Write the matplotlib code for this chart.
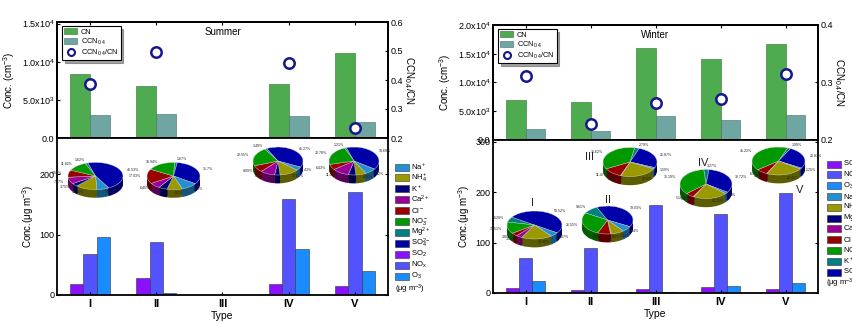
import numpy as np
import matplotlib
matplotlib.use('Agg')
import matplotlib.pyplot as plt
from matplotlib.patches import Patch, Rectangle
from matplotlib.lines import Line2D
from matplotlib.colors import to_rgb

plt.rcParams['font.family'] = ['Liberation Sans', 'DejaVu Sans']
plt.rcParams['mathtext.fontset'] = 'custom'
plt.rcParams['mathtext.rm'] = 'Liberation Sans'
plt.rcParams['mathtext.it'] = 'Liberation Sans:italic'
plt.rcParams['mathtext.bf'] = 'Liberation Sans:bold'

types = ['I', 'II', 'III', 'IV', 'V']

# ---------------- Summer data ----------------
summer_cn = [8400, 6800, np.nan, 7050, 11100]
summer_ccn = [2990, 3200, np.nan, 2900, 2100]
summer_ratio = [0.386, 0.496, np.nan, 0.458, 0.236]
summer_so2 = [17.6, 27.5, np.nan, 19, 15]
summer_nox = [68, 88, np.nan, 159, 171]
summer_o3 = [96, 4, np.nan, 77, 39]

# pie species order (clockwise): Mg2+, SO4 2-, Na+, NH4+, K+, Ca2+, Cl-, NO3-
summer_pie_I = [1.62, 46.53, 7.11, 12.76, 3.75, 7.87, 8.54, 11.82]
summer_pie_II = [1.67, 31.7, 9.75, 9.1, 5.2, 6.45, 17.03, 16.94]
summer_pie_IV = [1.49, 41.27, 4.30, 12.82, 3.7, 9.87, 8.09, 22.55]
summer_pie_V = [1.21, 39.69, 7.42, 6.56, 4.9, 11.01, 6.43, 22.78]

# ---------------- Winter data ----------------
winter_cn = [6960, 6670, 16060, 14090, 16750]
winter_ccn = [1910, 1510, 4230, 3540, 4400]
winter_ratio = [0.312, 0.228, 0.264, 0.271, 0.314]
winter_so2 = [10, 6.5, 7, 12.5, 7.5]
winter_nox = [69, 90, 174, 157, 199]
winter_o3 = [24, 2, 1, 14, 19]

# pie species order (clockwise): K+, SO4 2-, Na+, NH4+, Ca2+, Cl-, NO3-
winter_pie_I = [6.28, 50.52, 5.07, 18.28, 3.54, 3.8, 13.51]
winter_pie_II = [9.61, 39.03, 6.4, 8.04, 0.5, 8.03, 26.55]
winter_pie_III = [2.79, 25.87, 1.59, 22.6, 0.21, 11.47, 35.62]
winter_pie_IV = [3.27, 32.72, 2.0, 21.21, 0.45, 5.16, 35.19]
winter_pie_V = [1.99, 25.87, 1.25, 22.41, 0.23, 6.90, 41.22]

# tick labels
upper_left_ticks = [0, 5000, 10000, 15000]
upper_left_labels = ['0.0', r'5.0x10$^3$', r'1.0x10$^4$', r'1.5x10$^4$']
upper_right_ticks_s = [0.2, 0.3, 0.4, 0.5, 0.6]
upper_left_ticks_w = [0, 5000, 10000, 15000, 20000]
upper_left_labels_w = ['0.0', r'5.0x10$^3$', r'1.0x10$^4$', r'1.5x10$^4$', r'2.0x10$^4$']
upper_right_ticks_w = [0.2, 0.3, 0.4]

# colours
C_CN = '#4fab4f'
C_CCN = '#6fa6a2'
C_RATIO = '#16168f'
C_SO2 = '#8a10ff'
C_NOX = '#5252ff'
C_O3 = '#1a8cff'
C_NA = '#2590d0'
C_NH4 = '#9a9a00'
C_NAVY = '#00007a'
C_CA = '#990099'
C_CL = '#990000'
C_NO3 = '#009a00'
C_TEAL = '#008080'
C_SO4 = '#0000a8'

summer_pie_colors = [C_TEAL, C_SO4, C_NA, C_NH4, C_NAVY, C_CA, C_CL, C_NO3]
winter_pie_colors = [C_TEAL, C_SO4, C_NA, C_NH4, C_CA, C_CL, C_NO3]

summer_legend_labels = [r'Na$^+$', r'NH$_4^+$', r'K$^+$', r'Ca$^{2+}$', r'Cl$^-$', r'NO$_3^-$',
                        r'Mg$^{2+}$', r'SO$_4^{2-}$', r'SO$_2$', r'NO$_\mathrm{x}$', r'O$_3$']
summer_legend_colors = [C_NA, C_NH4, C_NAVY, C_CA, C_CL, C_NO3, C_TEAL, C_SO4, C_SO2, C_NOX, C_O3]
winter_legend_labels = [r'SO$_2$', r'NO$_\mathrm{x}$', r'O$_3$', r'Na$^+$', r'NH$_4^+$', r'Mg$^{2+}$',
                        r'Ca$^{2+}$', r'Cl$^-$', r'NO$_3^-$', r'K$^+$', r'SO$_4^{2-}$']
winter_legend_colors = [C_SO2, C_NOX, C_O3, C_NA, C_NH4, C_NAVY, C_CA, C_CL, C_NO3, C_TEAL, C_SO4]

W, H = 853, 324
fig = plt.figure(figsize=(W / 100, H / 100), dpi=100)


def px_axes(x0, y0, x1, y1, **kw):
    return fig.add_axes([x0 / W, 1 - y1 / H, (x1 - x0) / W, (y1 - y0) / H], **kw)


def style(ax):
    for s in ax.spines.values():
        s.set_linewidth(1.3)
    ax.tick_params(direction='in', length=2.5, width=0.8, labelsize=6.5, pad=2)


def darken(c, f=0.6):
    r, g, b = to_rgb(c)
    return (r * f, g * f, b * f)


def draw_pie(cx, cy, rx, ry, vals, cols, start):
    depth = 0.6
    ax = px_axes(cx - 1.5 * rx, cy - 1.4 * ry, cx + 1.5 * rx, cy + (1 + depth + 0.4) * ry)
    dark = [darken(c) for c in cols]
    n = 7
    for k in range(n):
        ax.pie(vals, colors=dark, startangle=start, counterclock=False,
               center=(0, -depth * (1 - k / n)), wedgeprops=dict(linewidth=0))
    labels = ['%g%%' % v for v in vals]
    ax.pie(vals, colors=cols, startangle=start, counterclock=False, labels=labels,
           labeldistance=1.22, textprops=dict(fontsize=2.6, color='#222222'),
           wedgeprops=dict(edgecolor='#dddddd', linewidth=0.3))
    ax.set_aspect('auto')
    ax.set_xlim(-1.5, 1.5)
    ax.set_ylim(-1 - depth - 0.4, 1.4)
    ax.axis('off')
    return ax


def panel(xl, xr, yt, ymid, yb, cn, ccn, ratio, so2, nox, o3, yticks, ylabels, ylim_u,
          rticks, rlim, ylim_l, lticks, title):
    x = np.arange(len(types))
    au = px_axes(xl, yt, xr, ymid)
    al = px_axes(xl, ymid, xr, yb)
    style(au)
    style(al)
    au.bar(x - 0.15, cn, width=0.3, color=C_CN, edgecolor='#2f6f2f', linewidth=0.4, label='CN')
    au.bar(x + 0.15, ccn, width=0.3, color=C_CCN, edgecolor='#446e6b', linewidth=0.4,
           label=r'CCN$_{0.4}$')
    au.set_xlim(-0.5, len(types) - 0.5)
    au.set_ylim(*ylim_u)
    au.set_yticks(yticks)
    au.set_yticklabels(ylabels)
    au.set_xticks(x)
    au.tick_params(axis='x', bottom=False, top=True, labelbottom=False)
    au.set_ylabel(r'Conc. (cm$^{-3}$)', fontsize=7, labelpad=3)
    ar = au.twinx()
    style(ar)
    ar.plot(x, ratio, 'o', markersize=7.5, markerfacecolor='white', markeredgecolor=C_RATIO,
            markeredgewidth=1.8, linestyle='none')
    ar.set_ylim(*rlim)
    ar.set_yticks(rticks)
    ar.set_yticklabels(['%.1f' % t for t in rticks])
    ar.set_ylabel(r'CCN$_{0.4}$/CN', fontsize=7, rotation=270, labelpad=9)
    au.text(0.5, 0.91, title, transform=au.transAxes, ha='center', va='center', fontsize=7)
    handles = [Patch(facecolor=C_CN, edgecolor='#2f6f2f', linewidth=0.4),
               Patch(facecolor=C_CCN, edgecolor='#446e6b', linewidth=0.4),
               Line2D([], [], marker='o', linestyle='none', markersize=5, markerfacecolor='white',
                      markeredgecolor=C_RATIO, markeredgewidth=1.5)]
    leg = au.legend(handles, ['CN', r'CCN$_{0.4}$', r'CCN$_{0.4}$/CN'], loc='upper left',
                    bbox_to_anchor=(0.01, 0.98), fontsize=5.3, frameon=True, fancybox=False,
                    shadow=True, edgecolor='black', handlelength=1.8, handleheight=0.9,
                    labelspacing=0.15, borderpad=0.3, handletextpad=0.5, borderaxespad=0.2)
    leg.get_frame().set_linewidth(0.8)

    al.bar(x - 0.2, so2, width=0.2, color=C_SO2, edgecolor='#333333', linewidth=0.4)
    al.bar(x, nox, width=0.2, color=C_NOX, edgecolor='#333333', linewidth=0.4)
    al.bar(x + 0.2, o3, width=0.2, color=C_O3, edgecolor='#333333', linewidth=0.4)
    al.set_xlim(-0.5, len(types) - 0.5)
    al.set_ylim(*ylim_l)
    al.set_yticks(lticks)
    al.set_xticks(x)
    al.set_xticklabels(types, fontsize=8, fontweight='bold')
    al.tick_params(axis='y', right=True)
    al.tick_params(axis='x', pad=3)
    al.spines['top'].set_visible(False)
    al.set_ylabel(r'Conc.($\mathrm{\mu}$g m$^{-3}$)', fontsize=7, labelpad=2)
    al.set_xlabel('Type', fontsize=7.5, labelpad=1)
    return au, al


# ---------------- Summer panel ----------------
panel(57, 388, 22, 138, 295, summer_cn, summer_ccn, summer_ratio, summer_so2, summer_nox,
      summer_o3, upper_left_ticks, upper_left_labels, (0, 15200), upper_right_ticks_s, (0.2, 0.6),
      (0, 260), [0, 100, 200], 'Summer')

# ---------------- Winter panel ----------------
panel(493, 818, 25, 140, 293, winter_cn, winter_ccn, winter_ratio, winter_so2, winter_nox,
      winter_o3, upper_left_ticks_w, upper_left_labels_w, (0, 20000), upper_right_ticks_w,
      (0.2, 0.4), (0, 303), [0, 100, 200, 300], 'Winter')

# ---------------- pies ----------------
draw_pie(95.5, 176, 27.5, 13.6, summer_pie_I, summer_pie_colors, 112)
draw_pie(173.5, 176, 26.5, 13.6, summer_pie_II, summer_pie_colors, 88)
draw_pie(278, 161, 25, 14, summer_pie_IV, summer_pie_colors, 122)
draw_pie(354, 161, 25, 14, summer_pie_V, summer_pie_colors, 112)

draw_pie(534.5, 225, 27.5, 14, winter_pie_I, winter_pie_colors, 168)
draw_pie(607.5, 220, 25.5, 14, winter_pie_II, winter_pie_colors, 150)
draw_pie(630, 162, 27, 14.5, winter_pie_III, winter_pie_colors, 80)
draw_pie(706, 184, 26, 14.5, winter_pie_IV, winter_pie_colors, 95)
draw_pie(778.5, 161, 26.5, 14, winter_pie_V, winter_pie_colors, 70)

for lab, (px, py) in zip(types, [(533, 203), (608, 200), (590, 157), (703, 163), (800, 190)]):
    fig.text(px / W, 1 - py / H, lab, fontsize=8, ha='center', va='center', color='#222222')


# ---------------- species legends (drawn manually) ----------------
def species_legend(x0, y0, dy, labels, colors):
    for i, (lab, c) in enumerate(zip(labels, colors)):
        yc = y0 + i * dy
        fig.patches.append(Rectangle((x0 / W, 1 - (yc + 3.5) / H), 14 / W, 7 / H,
                                     transform=fig.transFigure, facecolor=c,
                                     edgecolor='#333333', linewidth=0.4))
        fig.text((x0 + 16) / W, 1 - yc / H, lab, fontsize=5.5, va='center', ha='left')


species_legend(395, 167, 10.9, summer_legend_labels, summer_legend_colors)
fig.text(395 / W, 1 - 289 / H, r'($\mathrm{\mu}$g m$^{-3}$)', fontsize=5.5, va='center')
species_legend(827, 164, 10.8, winter_legend_labels, winter_legend_colors)
fig.text(826 / W, 1 - 283 / H, r'($\mathrm{\mu}$g m$^{-3}$)', fontsize=5.5, va='center')

fig.savefig('out.png', dpi=100)
